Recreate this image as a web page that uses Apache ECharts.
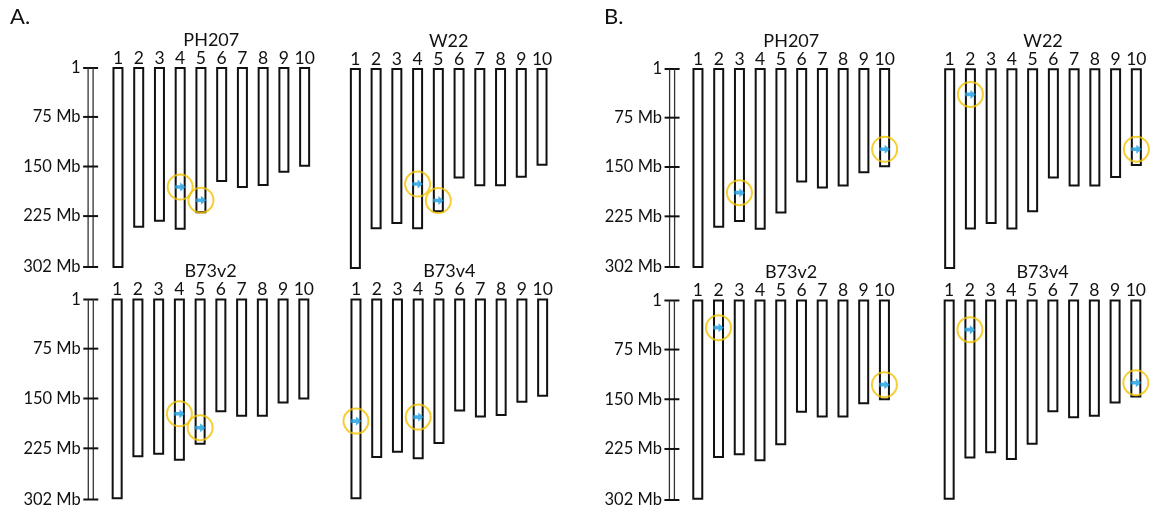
<!DOCTYPE html>
<html>
<head>
<meta charset="utf-8">
<title>Chromosome marker positions</title>
<script src="https://cdn.jsdelivr.net/npm/echarts@6/dist/echarts.min.js"></script>
<style>
  html, body { margin: 0; padding: 0; background: #fff; }
  #chart { width: 1154px; height: 510px; }
</style>
</head>
<body>
<div id="chart"></div>
<script>
// Chromosome numbers shown above every karyotype
const chromosomes = ['1', '2', '3', '4', '5', '6', '7', '8', '9', '10'];

// Chromosome lengths (Mb) per genome assembly
const lenPH207 = [302, 241, 232, 244, 219, 172, 181, 178, 158, 149];
const lenW22   = [302, 242, 234, 242, 216, 165, 177, 177, 164, 146];
const lenB73v2 = [300, 237, 233, 242, 218, 169, 176, 176, 156, 150];
const lenB73v4 = [300, 238, 230, 240, 217, 168, 177, 175, 155, 146];

// Ruler ticks (Mb)
const rulerTicks = [1, 75, 150, 225, 302];

// Marker hits: [chromosome index, position in Mb]
const hitsA_PH207 = [[3, 181], [4, 201]];
const hitsA_W22   = [[3, 175], [4, 200]];
const hitsA_B73v2 = [[3, 173], [4, 194]];
const hitsA_B73v4 = [[0, 184], [3, 178]];
const hitsB_PH207 = [[2, 189], [9, 123]];
const hitsB_W22   = [[1, 39], [9, 122]];
const hitsB_B73v2 = [[1, 42], [9, 128]];
const hitsB_B73v4 = [[1, 45], [9, 125]];

const FONT = 'Lato, "Open Sans", sans-serif';
const INK = '#111';

// Panel layout: grid box in pixels plus whether a ruler is drawn at its left
const panels = [
  { name: 'PH207', lens: lenPH207, hits: hitsA_PH207, left: 107.6, top: 68,    bottom: 267,   ruler: true,  rOff: 17 },
  { name: 'W22',   lens: lenW22,   hits: hitsA_W22,   left: 345.0, top: 69,    bottom: 268,   ruler: false },
  { name: 'B73v2', lens: lenB73v2, hits: hitsA_B73v2, left: 106.8, top: 299.5, bottom: 499.5, ruler: true,  rOff: 16 },
  { name: 'B73v4', lens: lenB73v4, hits: hitsA_B73v4, left: 345.6, top: 299.5, bottom: 499.5, ruler: false },
  { name: 'PH207', lens: lenPH207, hits: hitsB_PH207, left: 687.6, top: 69,    bottom: 267,   ruler: true,  rOff: 15.5 },
  { name: 'W22',   lens: lenW22,   hits: hitsB_W22,   left: 939.3, top: 69.3,  bottom: 268,   ruler: false },
  { name: 'B73v2', lens: lenB73v2, hits: hitsB_B73v2, left: 687.4, top: 300.5, bottom: 500,   ruler: true,  rOff: 15.5 },
  { name: 'B73v4', lens: lenB73v4, hits: hitsB_B73v4, left: 938.8, top: 300.5, bottom: 500,   ruler: false }
];
const GRID_W = 207.4;

const grid = [], xAxis = [], yAxis = [], series = [], graphicEls = [];

// Hollow chromosome bar from position 1 to the chromosome length
function renderChromosome(params, api) {
  const i = api.value(0);
  const a = api.coord([i, 1]);
  const b = api.coord([i, api.value(1)]);
  return {
    type: 'rect',
    shape: { x: a[0] - 4.5, y: a[1], width: 9, height: b[1] - a[1] },
    style: { fill: '#fff', stroke: INK, lineWidth: 2 }
  };
}

// Double-line ruler with a cross tick at each listed position
function makeRulerRenderer(offset) {
  return function (params, api) {
    const cs = params.coordSys;
    const xc = cs.x - offset;
    const p = api.coord([0, api.value(0)]);
    const children = [{
      type: 'line',
      shape: { x1: xc - 7.5, y1: p[1], x2: xc + 7.5, y2: p[1] },
      style: { stroke: INK, lineWidth: 2 }
    }];
    if (params.dataIndex === 0) {
      const y0 = api.coord([0, rulerTicks[0]])[1];
      const y1 = api.coord([0, rulerTicks[rulerTicks.length - 1]])[1];
      children.push(
        { type: 'line', shape: { x1: xc - 2.5, y1: y0, x2: xc - 2.5, y2: y1 }, style: { stroke: '#333', lineWidth: 1.3 } },
        { type: 'line', shape: { x1: xc + 2.5, y1: y0, x2: xc + 2.5, y2: y1 }, style: { stroke: '#333', lineWidth: 1.3 } }
      );
    }
    return { type: 'group', children: children };
  };
}

panels.forEach(function (p, k) {
  grid.push({ left: p.left, top: p.top, width: GRID_W, height: p.bottom - p.top, containLabel: false });
  xAxis.push({
    gridIndex: k, type: 'category', data: chromosomes, position: 'top',
    axisLine: { show: false }, axisTick: { show: false },
    axisLabel: { interval: 0, margin: 1, fontSize: 17.5, color: INK, fontFamily: FONT }
  });
  yAxis.push({
    gridIndex: k, type: 'value', min: 1, max: 302, inverse: true,
    splitLine: { show: false }, axisLine: { show: false }, axisTick: { show: false },
    axisLabel: {
      show: p.ruler, customValues: rulerTicks, margin: p.rOff + 10,
      fontSize: 16.5, color: INK, fontFamily: FONT,
      formatter: function (v) { return v === 1 ? '1' : v + ' Mb'; }
    }
  });
  series.push({
    type: 'custom', xAxisIndex: k, yAxisIndex: k, clip: false, silent: true,
    renderItem: renderChromosome,
    data: p.lens.map(function (v, i) { return [i, v]; })
  });
  if (p.ruler) {
    series.push({
      type: 'custom', xAxisIndex: k, yAxisIndex: k, clip: false, silent: true,
      renderItem: makeRulerRenderer(p.rOff),
      data: rulerTicks.map(function (v) { return [v]; }),
      encode: { y: 0 }
    });
  }
  series.push({
    type: 'scatter', xAxisIndex: k, yAxisIndex: k, silent: true, z: 4,
    symbol: 'circle', symbolSize: 25,
    itemStyle: { color: 'rgba(0,0,0,0)', borderColor: '#f2c200', borderWidth: 2 },
    data: p.hits
  });
  series.push({
    type: 'scatter', xAxisIndex: k, yAxisIndex: k, silent: true, z: 5,
    symbol: 'path://M0,3 L5,3 L5,0 L10,5 L5,10 L5,7 L0,7 Z', symbolSize: [11, 9],
    itemStyle: { color: '#1a9de2' },
    data: p.hits
  });
  graphicEls.push({
    type: 'text', x: p.left + GRID_W / 2, y: p.top - 28,
    style: { text: p.name, fontSize: 18, fill: INK, fontFamily: FONT, align: 'center', verticalAlign: 'middle' }
  });
});

graphicEls.push(
  { type: 'text', x: 10, y: 17, style: { text: 'A.', fontSize: 22, fill: INK, fontFamily: FONT, align: 'left', verticalAlign: 'middle' } },
  { type: 'text', x: 604, y: 17, style: { text: 'B.', fontSize: 22, fill: INK, fontFamily: FONT, align: 'left', verticalAlign: 'middle' } }
);

const chart = echarts.init(document.getElementById('chart'), null, { renderer: 'canvas' });
chart.setOption({
  animation: false,
  backgroundColor: '#fff',
  grid: grid,
  xAxis: xAxis,
  yAxis: yAxis,
  series: series,
  graphic: { elements: graphicEls }
});
</script>
</body>
</html>
